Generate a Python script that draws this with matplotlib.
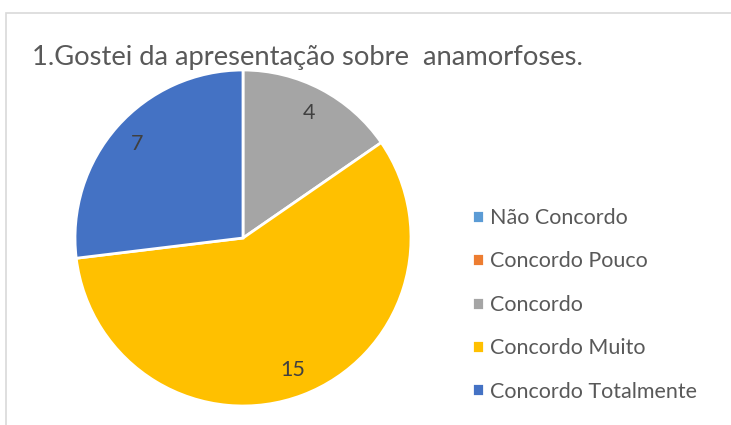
import matplotlib
matplotlib.use("Agg")
import matplotlib.pyplot as plt
from matplotlib.patches import Rectangle

categories = ["Não Concordo", "Concordo Pouco", "Concordo", "Concordo Muito", "Concordo Totalmente"]
values = [0, 0, 4, 15, 7]
colors = ["#5B9BD5", "#ED7D31", "#A5A5A5", "#FFC000", "#4472C4"]
title = "1.Gostei da apresentação sobre  anamorfoses."

plt.rcParams['font.family'] = ['Lato', 'DejaVu Sans']

txt = "#595959"
fig = plt.figure(figsize=(7.31, 4.25), dpi=100)
r = fig.canvas.get_renderer()

def fit(t, target):
    for _ in range(3):
        w = t.get_window_extent(renderer=r).width
        t.set_fontsize(t.get_fontsize() * target / w)

fig.patches.append(Rectangle((6/731, -0.1), 1.1, 1 - 13/425 + 0.1, transform=fig.transFigure,
                             fill=False, edgecolor="#D9D9D9", linewidth=1.2))

tt = fig.text(32/731, 1 - 57/425, title, fontsize=18, color=txt, va="center", ha="left")
fit(tt, 551)

probe = fig.text(0, 0, "Não Concordo", fontsize=14)
fit(probe, 138)
lfs = probe.get_fontsize()
probe.remove()

ax = fig.add_axes([(243-168)/731, (425-406)/425, 336/731, 336/425])
total = sum(values)
def fmt(p):
    v = round(p * total / 100)
    return f"{v}" if v > 0 else ""
wedges, _, autotexts = ax.pie(values, colors=colors, startangle=90, counterclock=False,
                              autopct=fmt, pctdistance=0.84, radius=1,
                              wedgeprops=dict(edgecolor="white", linewidth=2),
                              textprops=dict(color="#404040", fontsize=lfs))
ax.set_xlim(-1, 1)
ax.set_ylim(-1, 1)
ax.set_aspect("equal")

row_pt = 44.3 * 72 / 100
ls = row_pt / lfs - 0.97
leg = fig.legend(wedges, categories, loc="upper left", bbox_to_anchor=(472/731, 1 - 208/425),
                 frameon=False, fontsize=lfs, labelcolor=txt, handlelength=0.55, handleheight=0.55,
                 handletextpad=0.3, labelspacing=ls, borderaxespad=0, borderpad=0)

fig.savefig("out.png", dpi=100)
